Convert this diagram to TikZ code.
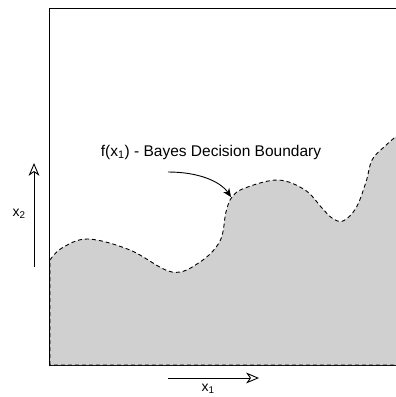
\documentclass[tikz,border=0pt]{standalone}
\usepackage{fontspec}
\setmainfont{Liberation Sans}
\usepackage{tikz}
\usetikzlibrary{arrows.meta}
\definecolor{regiongrey}{HTML}{D0D0D0}

\begin{document}
\begin{tikzpicture}[x=1pt,y=-1pt,
  frame/.style={draw=black,line width=0.9pt},
  region/.style={fill=regiongrey,draw=black,line width=0.9pt,dash pattern=on 4pt off 3pt},
  axisarrow/.style={-{Stealth[open,length=4.5mm,width=3.8mm,inset=1.3mm]},line width=0.9pt},
  pointer/.style={-{Stealth[length=3mm,width=2.6mm]},line width=0.9pt},
  lab/.style={font=\fontsize{15.5}{18}\selectfont,inner sep=0pt},
  sublab/.style={font=\fontsize{14}{16}\selectfont,inner sep=0pt}
]
\clip (0,0) rectangle (396,397);
\draw[frame] (49,8) rectangle (402,365);
% region below the decision boundary
\path[region] (50,365) -- plot[smooth,tension=0.6] coordinates {(50,260) (62,248) (88,239) (130,250) (172,272) (200,262) (220,241) (226,212) (232,197) (245,188) (278,180) (305,190) (322,208) (332,218) (343,221) (356,208) (366,182) (372,160) (384,147) (400,133)} -- (402,365) -- cycle;

\node[lab] (bayeslab) at (211,152) {f(x\textsubscript{1}) - Bayes Decision Boundary};
\coordinate (ptrstart) at (168,172);
\coordinate (ptrend) at (231,197);
\draw[pointer] (ptrstart) .. controls (198,172) and (220,181) .. (ptrend);

\coordinate (ybot) at (34,267);
\coordinate (ytop) at (34,163);
\draw[axisarrow] (ybot) -- (ytop);
\node[sublab] (ylab) at (19,214) {x\textsubscript{2}};

\coordinate (xleft) at (168,378);
\coordinate (xright) at (259,378);
\draw[axisarrow] (xleft) -- (xright);
\node[sublab] (xlab) at (208,389) {x\textsubscript{1}};
\end{tikzpicture}
\end{document}
